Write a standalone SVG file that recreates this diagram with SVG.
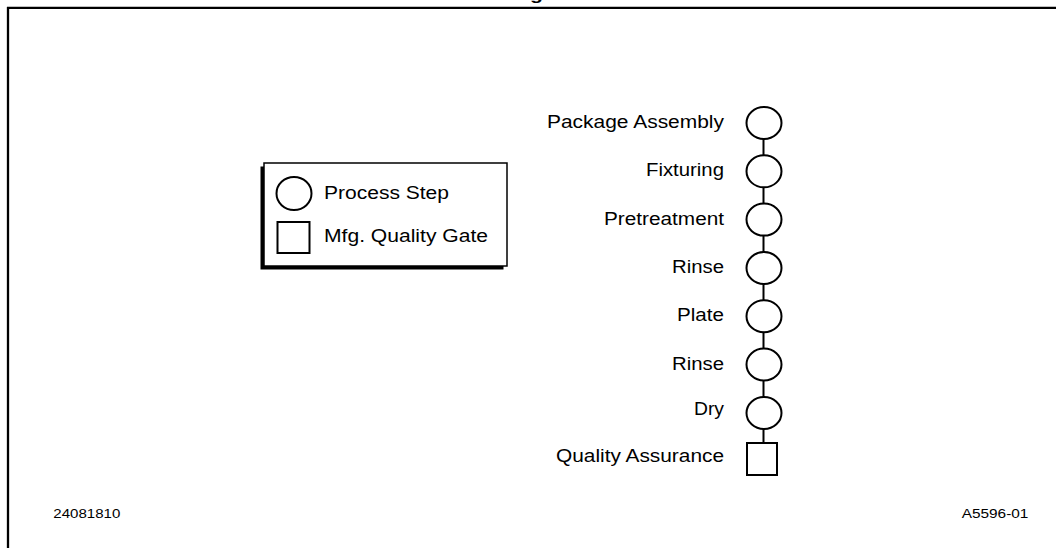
<svg xmlns="http://www.w3.org/2000/svg" width="1056" height="548" viewBox="0 0 1056 548">
<style>
text{font-family:"Liberation Sans",Arial,sans-serif;fill:#000}
.lbl{font-size:17.5px;text-anchor:end}
.leg{font-size:17.5px}
.small{font-size:12.5px}
.node{fill:#fff;stroke:#000;stroke-width:2}
.conn line{stroke:#000;stroke-width:2}
</style>
<rect width="1056" height="548" fill="#fff"/>
<g id="frame">
<line x1="7" y1="7.8" x2="1056" y2="7.8" stroke="#000" stroke-width="2.3"/>
<line x1="8" y1="7" x2="8" y2="548" stroke="#000" stroke-width="2.3"/>
<text x="530" y="-0.5" style="font-size:17px;font-weight:bold" textLength="13" lengthAdjust="spacingAndGlyphs">g</text>
</g>
<g id="legend">
<rect x="260.5" y="166.5" width="243" height="103" fill="#000"/>
<rect x="264" y="163" width="243" height="103" fill="#fff" stroke="#000" stroke-width="1.5"/>
<ellipse cx="294" cy="193.5" rx="17.5" ry="16.5" class="node"/>
<rect x="277.5" y="222" width="32" height="31" class="node"/>
<text x="324" y="199" class="leg" textLength="125" lengthAdjust="spacingAndGlyphs">Process Step</text>
<text x="324" y="242" class="leg" textLength="164" lengthAdjust="spacingAndGlyphs">Mfg. Quality Gate</text>
</g>
<g id="connectors" class="conn">
<line x1="763.5" y1="139" x2="763.5" y2="155.3"/>
<line x1="763.5" y1="187.3" x2="763.5" y2="203.6"/>
<line x1="763.5" y1="235.6" x2="763.5" y2="252"/>
<line x1="763.5" y1="284" x2="763.5" y2="300.2"/>
<line x1="763.5" y1="332.2" x2="763.5" y2="348.5"/>
<line x1="763.5" y1="380.5" x2="763.5" y2="397"/>
<line x1="763.5" y1="429" x2="763.5" y2="443"/>
</g>
<g id="n1"><ellipse cx="764" cy="123" rx="17.5" ry="16" class="node"/><text x="724" y="128" class="lbl" textLength="177" lengthAdjust="spacingAndGlyphs">Package Assembly</text></g>
<g id="n2"><ellipse cx="764" cy="171.3" rx="17.5" ry="16" class="node"/><text x="724" y="176" class="lbl" textLength="78" lengthAdjust="spacingAndGlyphs">Fixturing</text></g>
<g id="n3"><ellipse cx="764" cy="219.6" rx="17.5" ry="16" class="node"/><text x="724" y="224.5" class="lbl" textLength="120" lengthAdjust="spacingAndGlyphs">Pretreatment</text></g>
<g id="n4"><ellipse cx="764" cy="268" rx="17.5" ry="16" class="node"/><text x="724" y="273" class="lbl" textLength="52" lengthAdjust="spacingAndGlyphs">Rinse</text></g>
<g id="n5"><ellipse cx="764" cy="316.2" rx="17.5" ry="16" class="node"/><text x="724" y="321" class="lbl" textLength="47" lengthAdjust="spacingAndGlyphs">Plate</text></g>
<g id="n6"><ellipse cx="764" cy="364.5" rx="17.5" ry="16" class="node"/><text x="724" y="369.5" class="lbl" textLength="52" lengthAdjust="spacingAndGlyphs">Rinse</text></g>
<g id="n7"><ellipse cx="764" cy="413" rx="17.5" ry="16" class="node"/><text x="724" y="415" class="lbl" textLength="30" lengthAdjust="spacingAndGlyphs">Dry</text></g>
<g id="n8"><rect x="747" y="443" width="30" height="32" class="node"/><text x="724" y="462" class="lbl" textLength="168" lengthAdjust="spacingAndGlyphs">Quality Assurance</text></g>
<g id="ids">
<text x="53.3" y="518" class="small" textLength="67" lengthAdjust="spacingAndGlyphs">24081810</text>
<text x="961.7" y="518" class="small" textLength="66.7" lengthAdjust="spacingAndGlyphs">A5596-01</text>
</g>
</svg>
